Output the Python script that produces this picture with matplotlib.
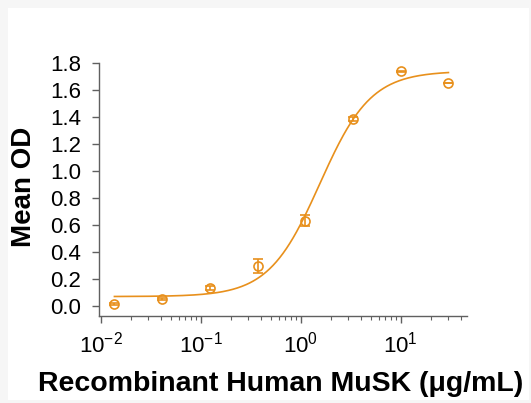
import numpy as np
import matplotlib
matplotlib.use("Agg")
import matplotlib.pyplot as plt
from matplotlib.ticker import LogLocator, LogFormatterSciNotation

plt.rcParams['font.family'] = ['Liberation Sans', 'DejaVu Sans']
plt.rcParams['mathtext.fontset'] = 'custom'
plt.rcParams['mathtext.rm'] = 'Liberation Sans'

# data
conc = [0.0137, 0.0412, 0.123, 0.370, 1.11, 3.33, 10.0, 30.0]
mean_od = [0.017, 0.054, 0.133, 0.296, 0.631, 1.386, 1.738, 1.654]
od_err = [0.008, 0.006, 0.015, 0.052, 0.040, 0.012, 0.006, 0.0]

# 4PL fit parameters (bottom, top, EC50, hill)
bottom, top, ec50, hill = 0.07, 1.74, 1.55, 1.7

orange = '#E8901C'
gray = '#606060'

fig = plt.figure(figsize=(5.31, 4.03), dpi=100, facecolor='#f6f6f6')

# white panel behind the chart
bg = fig.add_axes([8 / 531, 3 / 403, 521 / 531, 392 / 403], zorder=-1)
bg.set_facecolor('white')
bg.set_xticks([])
bg.set_yticks([])
for s in bg.spines.values():
    s.set_visible(False)

ax = fig.add_axes([99 / 531, 87 / 403, 368 / 531, 253 / 403])
ax.set_facecolor('none')

xs = np.logspace(np.log10(conc[0]), np.log10(conc[-1]), 300)
ys = bottom + (top - bottom) / (1 + (ec50 / xs) ** hill)
ax.plot(xs, ys, color=orange, lw=1.2)
ax.errorbar(conc, mean_od, yerr=od_err, fmt='o', mfc='none', mec=orange,
            ecolor=orange, ms=6.5, mew=1.2, elinewidth=1.2, capsize=3.5,
            capthick=1.2)

ax.set_xscale('log')
ax.set_xlim(0.0096, 46)
ax.set_ylim(-0.074, 1.8)
ax.set_yticks(np.arange(0, 1.81, 0.2))
ax.set_yticklabels([f'{v:.1f}' for v in np.arange(0, 1.81, 0.2)])
ax.xaxis.set_major_locator(LogLocator(base=10, numticks=10))
ax.xaxis.set_major_formatter(LogFormatterSciNotation())
ax.xaxis.set_minor_locator(LogLocator(base=10, subs=np.arange(2, 10), numticks=10))

for s in ['top', 'right']:
    ax.spines[s].set_visible(False)
for s in ['left', 'bottom']:
    ax.spines[s].set_color(gray)
    ax.spines[s].set_linewidth(1.0)

ax.tick_params(axis='both', which='major', direction='out', length=5,
               width=1, color=gray, labelsize=16, pad=8)
ax.tick_params(axis='x', which='minor', direction='out', length=3,
               width=0.8, color=gray)
ax.tick_params(axis='x', which='major', pad=6)

fig.text(24 / 531, (403 - 187) / 403, 'Mean OD', rotation=90, fontsize=20,
         fontweight='bold', ha='center', va='center')
fig.text(281 / 531, (403 - 384) / 403, 'Recombinant Human MuSK (μg/mL)',
         fontsize=20.5, fontweight='bold', ha='center', va='center')

fig.savefig('out.png', dpi=100, facecolor=fig.get_facecolor())
